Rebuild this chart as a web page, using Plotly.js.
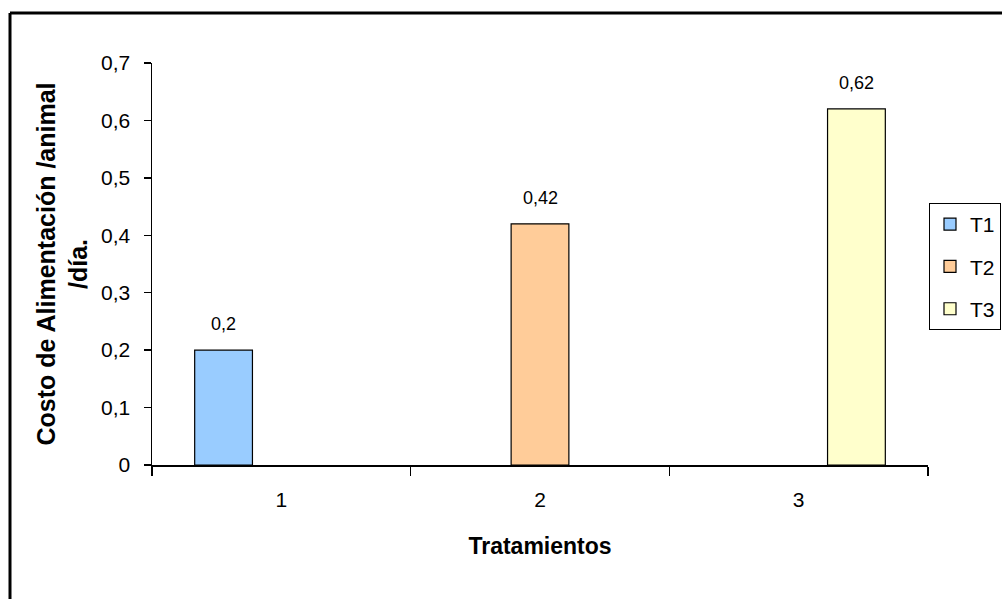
<!DOCTYPE html>
<html>
<head>
<meta charset="utf-8">
<script src="https://cdn.plot.ly/plotly-3.0.1.min.js"></script>
<style>html,body{margin:0;padding:0;background:#fff;}#chart{width:1002px;height:599px;}</style>
</head>
<body>
<div id="chart"></div>
<script>
var categories = ['1', '2', '3'];
var seriesNames = ['T1', 'T2', 'T3'];
var valuesT1 = [0.2, null, null];
var valuesT2 = [null, 0.42, null];
var valuesT3 = [null, null, 0.62];
var yTickVals = [0, 0.1, 0.2, 0.3, 0.4, 0.5, 0.6, 0.7];
var yTickText = ['0', '0,1', '0,2', '0,3', '0,4', '0,5', '0,6', '0,7'];
var colors = ['#99CCFF', '#FFCC99', '#FFFFCC'];

var seriesValues = [valuesT1, valuesT2, valuesT3];
var M = {l: 152, r: 74, t: 63, b: 134};
var W = 1002, H = 599;
var bargap = 0.33;
var plotW = W - M.l - M.r;
var plotH = H - M.t - M.b;
var barPx = plotW / categories.length * (1 - bargap) / seriesNames.length;
var FONT = 'Liberation Sans, Arial, sans-serif';

var traces = seriesValues.map(function (vals, i) {
  return {
    type: 'bar',
    name: seriesNames[i],
    legendgroup: seriesNames[i],
    x: categories,
    y: vals,
    marker: {color: colors[i], line: {color: '#000000', width: 1.2}},
    hoverinfo: 'x+y'
  };
});

var annotations = [];
seriesValues.forEach(function (vals, i) {
  vals.forEach(function (v, j) {
    if (v === null) return;
    annotations.push({
      x: j, y: v, xref: 'x', yref: 'y',
      text: String(v).replace('.', ','),
      showarrow: false, yanchor: 'bottom',
      xshift: (i - (seriesNames.length - 1) / 2) * barPx,
      yshift: 14,
      font: {family: FONT, size: 18, color: '#000'}
    });
  });
});

var layout = {
  width: W, height: H,
  margin: M,
  paper_bgcolor: '#ffffff',
  plot_bgcolor: '#ffffff',
  barmode: 'group',
  bargap: bargap,
  bargroupgap: 0,
  separators: ',.',
  showlegend: true,
  legend: {
    xref: 'container', yref: 'container',
    x: 929 / W, y: 1 - 203 / H, xanchor: 'left', yanchor: 'top',
    bordercolor: '#000', borderwidth: 1, bgcolor: '#fff',
    traceorder: 'grouped', tracegroupgap: 12,
    font: {family: FONT, size: 21, color: '#000'}
  },
  xaxis: {
    type: 'category',
    range: [-0.5, 2.5],
    showline: true, linecolor: '#000', linewidth: 1.5,
    ticks: 'outside', tickson: 'boundaries', ticklen: 9, tickcolor: '#000', tickwidth: 1.5,
    ticklabelstandoff: 15,
    showgrid: false, zeroline: false,
    tickfont: {family: FONT, size: 21, color: '#000'},
    title: {text: 'Tratamientos', standoff: 28,
      font: {family: FONT, size: 23, color: '#000', weight: 'bold'}},
    fixedrange: true
  },
  yaxis: {
    range: [0, 0.7],
    tickvals: yTickVals, ticktext: yTickText,
    showline: true, linecolor: '#000', linewidth: 1.5,
    ticks: 'outside', ticklen: 7, tickcolor: '#000', tickwidth: 1.5,
    ticklabelstandoff: 9,
    showgrid: false, zeroline: false,
    tickfont: {family: FONT, size: 21, color: '#000'},
    title: {text: 'Costo de Alimentación /animal<br>/día.', standoff: 6,
      font: {family: FONT, size: 25, color: '#000', weight: 'bold'}},
    fixedrange: true
  },
  annotations: annotations,
  shapes: [
    {type: 'line', xref: 'paper', yref: 'paper',
      x0: (10 - M.l) / plotW, x1: (W + 10 - M.l) / plotW,
      y0: (H - M.b - 13) / plotH, y1: (H - M.b - 13) / plotH,
      line: {color: '#000', width: 3}},
    {type: 'line', xref: 'paper', yref: 'paper',
      x0: (10 - M.l) / plotW, x1: (10 - M.l) / plotW,
      y0: (H - M.b - 13) / plotH, y1: (H - M.b - H - 10) / plotH,
      line: {color: '#000', width: 3}}
  ]
};

Plotly.newPlot('chart', traces, layout, {displayModeBar: false, staticPlot: true});
</script>
</body>
</html>
